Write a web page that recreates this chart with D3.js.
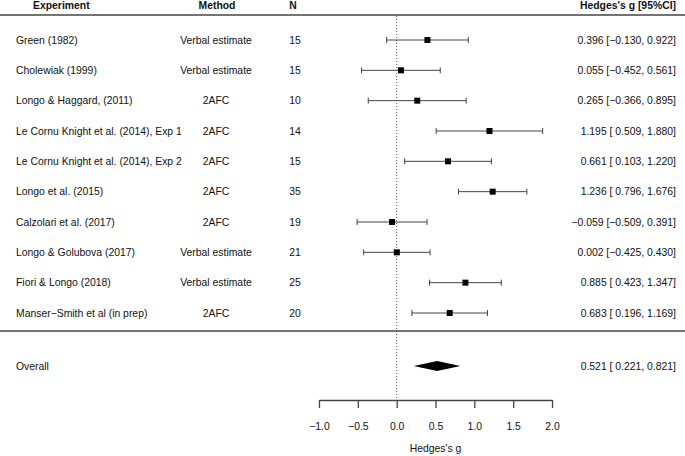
<!DOCTYPE html>
<html>
<head>
<meta charset="utf-8">
<script src="https://cdn.jsdelivr.net/npm/d3@7/dist/d3.min.js"></script>
<style>
  html, body { margin: 0; padding: 0; background: #fff; }
  svg { display: block; }
  text { font-family: "Liberation Sans", Arial, Helvetica, sans-serif; fill: #111; }
</style>
</head>
<body>
<svg id="chart" width="685" height="456"></svg>
<script>
// ---- data ----
const experiments = [
  "Green (1982)",
  "Cholewiak (1999)",
  "Longo & Haggard, (2011)",
  "Le Cornu Knight et al. (2014), Exp 1",
  "Le Cornu Knight et al. (2014), Exp 2",
  "Longo et al. (2015)",
  "Calzolari et al. (2017)",
  "Longo & Golubova (2017)",
  "Fiori & Longo (2018)",
  "Manser\u2212Smith et al (in prep)"
];
const methods = ["Verbal estimate", "Verbal estimate", "2AFC", "2AFC", "2AFC", "2AFC", "2AFC", "Verbal estimate", "Verbal estimate", "2AFC"];
const ns = [15, 15, 10, 14, 15, 35, 19, 21, 25, 20];
const g  = [0.396, 0.055, 0.265, 1.195, 0.661, 1.236, -0.059, 0.002, 0.885, 0.683];
const lo = [-0.130, -0.452, -0.366, 0.509, 0.103, 0.796, -0.509, -0.425, 0.423, 0.196];
const hi = [0.922, 0.561, 0.895, 1.880, 1.220, 1.676, 0.391, 0.430, 1.347, 1.169];
const overall = { label: "Overall", g: 0.521, lo: 0.221, hi: 0.821 };
const xTicks = [-1.0, -0.5, 0.0, 0.5, 1.0, 1.5, 2.0];
const headers = { exp: "Experiment", method: "Method", n: "N", es: "Hedges's g [95%CI]" };
const xTitle = "Hedges's g";

// ---- layout ----
const svg = d3.select("#chart");
const W = 685;
const fs = 10.4;
const lineCol = "#444";

const x = d3.scaleLinear().domain([-1, 2]).range([319, 552]);
const y = d3.scaleLinear().domain([0, experiments.length - 1]).range([40, 313]);
const yOverall = 366;
const yAxis = 400;

const colExp = 16, colMethod = 216, colN = 295, colES = 676;

const fmt = d3.format(".3f");
const fm = v => fmt(v).replace("-", "\u2212");
const ci = v => (v >= 0 ? " " : "") + fm(v);
const esLabel = (a, b, c) => `${fm(a)} [${ci(b)}, ${fm(c)}]`;

const rows = experiments.map((e, i) => ({ e, m: methods[i], n: ns[i], g: g[i], lo: lo[i], hi: hi[i], i }));

// header
const hdr = svg.append("g").attr("font-weight", "bold").attr("font-size", fs);
hdr.append("text").attr("x", 33).attr("y", 9).attr("font-weight", "bold").text(headers.exp);
hdr.append("text").attr("x", 217).attr("y", 9).attr("text-anchor", "middle").attr("font-weight", "bold").text(headers.method);
hdr.append("text").attr("x", 293).attr("y", 9).attr("text-anchor", "middle").attr("font-weight", "bold").text(headers.n);
hdr.append("text").attr("x", colES).attr("y", 9).attr("text-anchor", "end").attr("font-weight", "bold").text(headers.es);

svg.append("line").attr("x1", 0).attr("x2", W).attr("y1", 15).attr("y2", 15)
  .attr("stroke", lineCol).attr("stroke-width", 1.3);
svg.append("line").attr("x1", 0).attr("x2", W).attr("y1", 331).attr("y2", 331)
  .attr("stroke", lineCol).attr("stroke-width", 1.3);

// zero reference line
svg.append("line").attr("x1", x(0)).attr("x2", x(0)).attr("y1", 16).attr("y2", yAxis)
  .attr("stroke", "#555").attr("stroke-width", 1).attr("stroke-dasharray", "1,2");

// row texts
const rg = svg.append("g").attr("font-size", fs);
rows.forEach(r => {
  const yy = y(r.i);
  rg.append("text").attr("x", colExp).attr("y", yy).attr("dy", "0.35em").text(r.e);
  rg.append("text").attr("x", colMethod).attr("y", yy).attr("dy", "0.35em").attr("text-anchor", "middle").text(r.m);
  rg.append("text").attr("x", colN).attr("y", yy).attr("dy", "0.35em").attr("text-anchor", "middle").text(r.n);
  rg.append("text").attr("x", colES).attr("y", yy).attr("dy", "0.35em").attr("text-anchor", "end").text(esLabel(r.g, r.lo, r.hi));
});

// error bars and points
const mg = svg.append("g");
rows.forEach(r => {
  const yy = y(r.i);
  mg.append("line").attr("x1", x(r.lo)).attr("x2", x(r.hi)).attr("y1", yy).attr("y2", yy)
    .attr("stroke", lineCol).attr("stroke-width", 1);
  [r.lo, r.hi].forEach(v => {
    mg.append("line").attr("x1", x(v)).attr("x2", x(v)).attr("y1", yy - 3).attr("y2", yy + 3)
      .attr("stroke", lineCol).attr("stroke-width", 1);
  });
  const s = 6;
  mg.append("rect").attr("x", x(r.g) - s / 2).attr("y", yy - s / 2).attr("width", s).attr("height", s)
    .attr("fill", "#000");
});

// overall
rg.append("text").attr("x", colExp).attr("y", yOverall).attr("dy", "0.35em").text(overall.label);
rg.append("text").attr("x", colES).attr("y", yOverall).attr("dy", "0.35em").attr("text-anchor", "end")
  .text(esLabel(overall.g, overall.lo, overall.hi));
const dh = 5;
svg.append("path")
  .attr("d", `M${x(overall.lo)},${yOverall} L${x(overall.g)},${yOverall - dh} L${x(overall.hi)},${yOverall} L${x(overall.g)},${yOverall + dh} Z`)
  .attr("fill", "#000");

// axis
const axis = d3.axisBottom(x).tickValues(xTicks).tickSize(8).tickSizeOuter(0).tickPadding(15)
  .tickFormat(d => d3.format(".1f")(d).replace("-", "\u2212"));
const ag = svg.append("g").attr("transform", `translate(0,${yAxis})`).call(axis);
ag.select(".domain").attr("stroke", lineCol).attr("stroke-width", 1.3);
ag.selectAll(".tick line").attr("stroke", lineCol).attr("stroke-width", 1.3);
ag.selectAll(".tick text").attr("font-size", fs).attr("font-family", "Liberation Sans, Arial, sans-serif").attr("fill", "#111");

svg.append("text").attr("x", x(0.5)).attr("y", 452).attr("text-anchor", "middle").attr("font-size", fs).text(xTitle);
</script>
</body>
</html>
